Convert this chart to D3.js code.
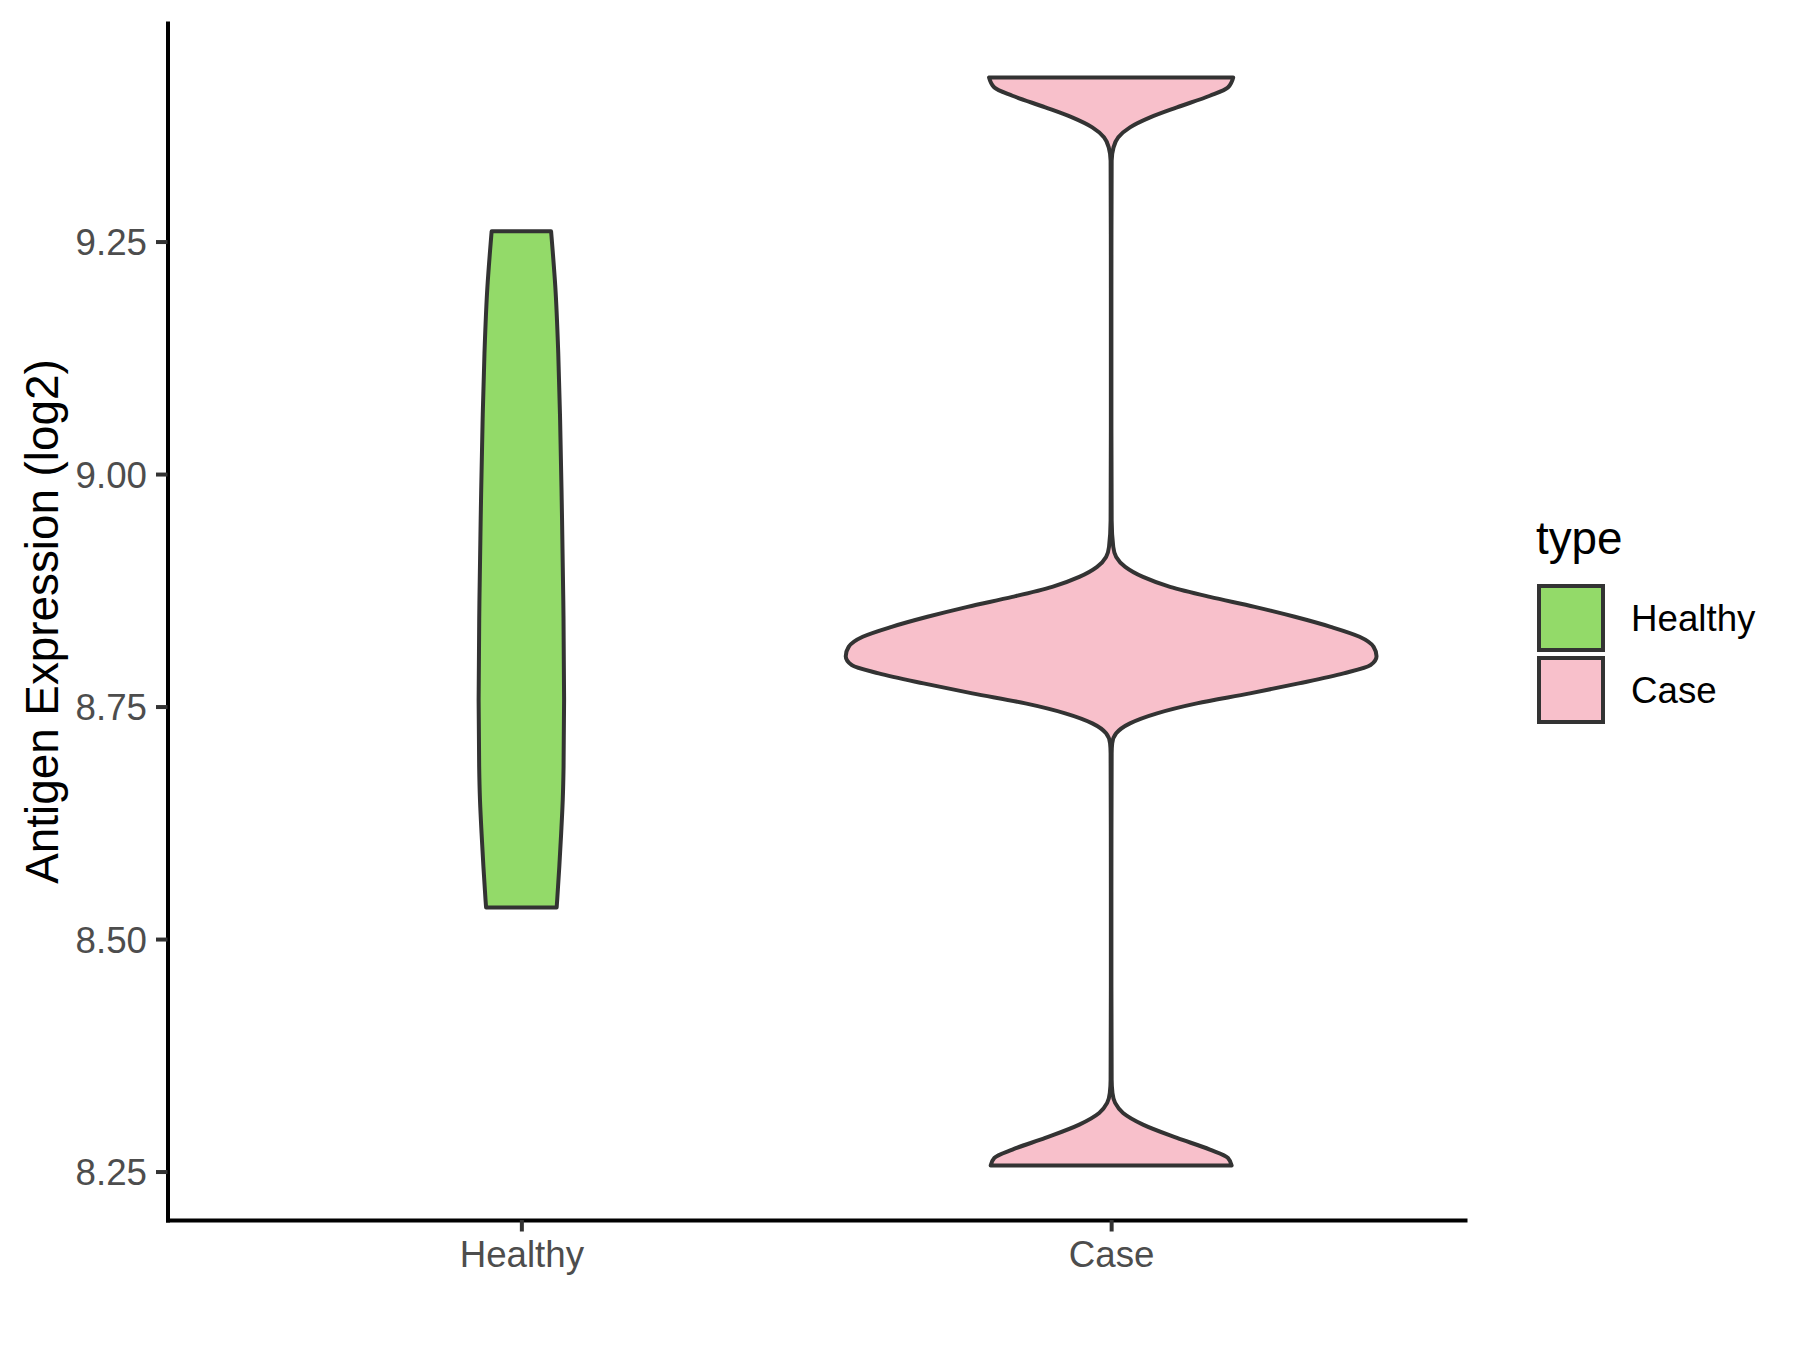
<!DOCTYPE html>
<html>
<head>
<meta charset="utf-8">
<script src="https://cdn.jsdelivr.net/npm/d3@7"></script>
<style>
  html, body { margin: 0; padding: 0; background: #ffffff; }
  svg { display: block; font-family: "Liberation Sans", Arial, Helvetica, sans-serif; }
</style>
</head>
<body>
<svg id="chart" width="1800" height="1350"></svg>
<script>
// ---------------- data ----------------
const categories = ["Healthy", "Case"];
const yTicks = [8.25, 8.50, 8.75, 9.00, 9.25];
const yTitle = "Antigen Expression (log2)";
const legendTitle = "type";

// violin profiles: expression value and relative density (1 = widest slice of the chart)
const healthyValues  = [9.261, 9.240, 9.201, 9.130, 9.058, 8.972, 8.864, 8.757, 8.685, 8.650, 8.614, 8.578, 8.542, 8.534];
const healthyDensity = [0.112, 0.118, 0.128, 0.139, 0.146, 0.152, 0.158, 0.161, 0.159, 0.156, 0.150, 0.143, 0.135, 0.133];

const caseValues = [9.4265, 9.4157, 9.4068, 9.3943, 9.3835, 9.3728, 9.3621, 9.3513, 9.3370, 9.20, 9.05, 8.95,
  8.9217, 8.9109, 8.9002, 8.8894, 8.8787, 8.8679, 8.8572, 8.8465, 8.8357, 8.8250, 8.8142, 8.8042,
  8.7946, 8.7857, 8.7749, 8.7642, 8.7534, 8.7427, 8.7319, 8.7212, 8.7105, 8.6997, 8.55, 8.45,
  8.3488, 8.3345, 8.3238, 8.3130, 8.3005, 8.2862, 8.2736, 8.2647, 8.2564];
const caseDensity = [0.460, 0.440, 0.372, 0.248, 0.147, 0.071, 0.027, 0.009, 0.002, 0.001, 0.001, 0.002,
  0.008, 0.019, 0.053, 0.120, 0.222, 0.372, 0.541, 0.692, 0.827, 0.936, 0.989, 1.000,
  0.977, 0.876, 0.707, 0.523, 0.323, 0.173, 0.071, 0.019, 0.004, 0.002, 0.001, 0.001,
  0.002, 0.005, 0.015, 0.045, 0.120, 0.248, 0.372, 0.440, 0.454];

const groups = [
  { name: "Healthy", values: healthyValues, density: healthyDensity, fill: "#93DA69" },
  { name: "Case",    values: caseValues,    density: caseDensity,    fill: "#F8C0CB" }
];

// ---------------- layout ----------------
const panel = { left: 167.5, right: 1465, top: 23, bottom: 1220 };
const outline = "#333333";

const svg = d3.select("#chart");

const allVals = groups.flatMap(g => g.values);
const vmin = d3.min(allVals), vmax = d3.max(allVals);
const pad = (vmax - vmin) * 0.05;

const y = d3.scaleLinear().domain([vmin - pad, vmax + pad]).range([panel.bottom, panel.top]);
const x = d3.scalePoint().domain(categories).range([panel.left, panel.right]).padding(0.6);
const halfW = d3.scaleLinear().domain([0, 1]).range([0, 0.45 * x.step()]);

// violins
groups.forEach(g => {
  const pts = g.values.map((v, i) => ({ v, d: g.density[i] }));
  const cx = x(g.name);
  const area = d3.area()
    .y(p => y(p.v))
    .x0(p => cx - halfW(p.d))
    .x1(p => cx + halfW(p.d))
    .curve(d3.curveMonotoneY);
  svg.append("path")
    .attr("d", area(pts))
    .attr("fill", g.fill)
    .attr("stroke", outline)
    .attr("stroke-width", 4)
    .attr("stroke-linejoin", "round");
});

// axes
const yAxis = d3.axisLeft(y).tickValues(yTicks).tickFormat(d3.format(".2f"))
  .tickSize(11.5).tickSizeOuter(0).tickPadding(9);
const gy = svg.append("g").attr("transform", `translate(${panel.left},0)`).call(yAxis);

const xAxis = d3.axisBottom(x).tickSize(11.5).tickSizeOuter(0).tickPadding(9);
const gx = svg.append("g").attr("transform", `translate(0,${panel.bottom})`).call(xAxis);

[gy, gx].forEach(g => {
  g.select(".domain").attr("stroke", "#000000").attr("stroke-width", 4).attr("stroke-linecap", "square");
  g.selectAll(".tick line").attr("stroke", outline).attr("stroke-width", 4);
  g.selectAll(".tick text").attr("fill", "#4D4D4D").attr("font-size", 36.7)
    .attr("font-family", "'Liberation Sans', Arial, sans-serif");
});
gy.selectAll(".tick text").attr("dy", "0.36em");
gx.selectAll(".tick text").attr("dy", "0.71em");

// y title
svg.append("text")
  .attr("transform", `translate(57.5,${(panel.top + panel.bottom) / 2}) rotate(-90)`)
  .attr("text-anchor", "middle")
  .attr("font-size", 45.8)
  .attr("fill", "#000000")
  .text(yTitle);

// legend
const lg = svg.append("g");
lg.append("text").attr("x", 1536).attr("y", 554).attr("font-size", 45.8).attr("fill", "#000").text(legendTitle);
groups.forEach((g, i) => {
  const top = 586 + i * 72;
  lg.append("rect").attr("x", 1539).attr("y", top).attr("width", 64).attr("height", 64)
    .attr("fill", g.fill).attr("stroke", outline).attr("stroke-width", 4);
  lg.append("text").attr("x", 1631).attr("y", top + 32 + 13).attr("font-size", 36.7)
    .attr("fill", "#000").text(g.name);
});
</script>
</body>
</html>
